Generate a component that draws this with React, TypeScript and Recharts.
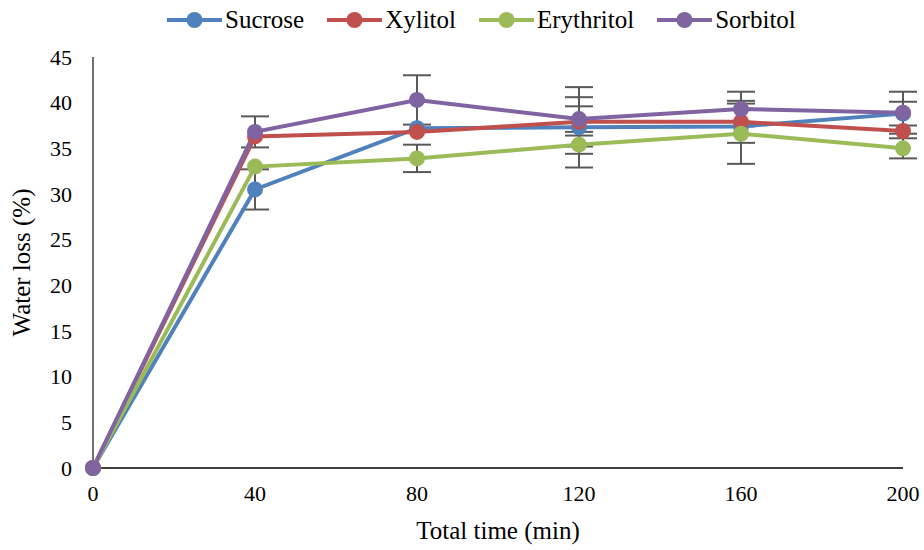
import { LineChart, Line, XAxis, YAxis, ErrorBar } from 'recharts'

const times = ['0', '40', '80', '120', '160', '200']

// null = error bar hidden under the marker in the source figure
const sucrose = [0, 30.5, 37.2, 37.3, 37.4, 38.8]
const sucroseErr = [null, 2.2, null, 4.4, null, 1.3]
const xylitol = [0, 36.3, 36.8, 37.9, 37.9, 36.9]
const xylitolErr = [null, null, null, 2.7, 2.3, null]
const erythritol = [0, 33.0, 33.9, 35.4, 36.6, 35.0]
const erythritolErr = [null, null, 1.5, 1.0, 3.3, 1.1]
const sorbitol = [0, 36.8, 40.3, 38.2, 39.3, 38.9]
const sorbitolErr = [null, 1.7, 2.7, 1.4, 1.9, 2.3]

const yTicks = [0, 5, 10, 15, 20, 25, 30, 35, 40, 45]

const SERIES = [
  { key: 'sucrose', name: 'Sucrose', color: '#4F81BD' },
  { key: 'xylitol', name: 'Xylitol', color: '#C0504D' },
  { key: 'erythritol', name: 'Erythritol', color: '#9BBB59' },
  { key: 'sorbitol', name: 'Sorbitol', color: '#8064A2' },
]

const FONT = 'Liberation Serif, Times New Roman, Tinos, DejaVu Serif, serif'

const data = times.map((t, i) => ({
  time: t,
  sucrose: sucrose[i],
  sucroseErr: sucroseErr[i],
  xylitol: xylitol[i],
  xylitolErr: xylitolErr[i],
  erythritol: erythritol[i],
  erythritolErr: erythritolErr[i],
  sorbitol: sorbitol[i],
  sorbitolErr: sorbitolErr[i],
}))

function TopLegend() {
  return (
    <div
      style={{
        position: 'absolute',
        top: 6,
        left: 167,
        display: 'flex',
        gap: 23,
        fontFamily: FONT,
        fontSize: 25,
        color: '#000',
      }}
    >
      {SERIES.map((s) => (
        <div key={s.key} style={{ display: 'flex', alignItems: 'center', gap: 3 }}>
          <svg width={55} height={20}>
            <line x1={0} y1={10} x2={55} y2={10} stroke={s.color} strokeWidth={4} />
            <circle cx={27.5} cy={10} r={8} fill={s.color} />
          </svg>
          <span>{s.name}</span>
        </div>
      ))}
    </div>
  )
}

export default function App() {
  return (
    <div style={{ position: 'absolute', left: 0, top: 0, width: 924, height: 550, background: '#fff', fontFamily: FONT }}>
      <LineChart
        width={924}
        height={550}
        data={data}
        margin={{ top: 57, right: 21, left: 33, bottom: 42 }}
        style={{ fontFamily: FONT }}
      >
        <XAxis
          dataKey="time"
          type="category"
          padding={{ left: 0, right: 0 }}
          tickLine={false}
          tickSize={0}
          tickMargin={17}
          height={40}
          axisLine={{ stroke: '#000', strokeWidth: 1.5 }}
          tick={{ fill: '#000', fontSize: 22, fontFamily: FONT }}
          label={{
            value: 'Total time (min)',
            position: 'insideBottom',
            offset: -31,
            fill: '#000',
            fontSize: 25,
            fontFamily: FONT,
          }}
        />
        <YAxis
          type="number"
          domain={[0, 45]}
          ticks={yTicks}
          interval={0}
          width={60}
          tickLine={false}
          tickSize={0}
          tickMargin={21}
          axisLine={{ stroke: '#404040', strokeWidth: 1.5 }}
          tick={{ fill: '#000', fontSize: 22, fontFamily: FONT }}
          label={{
            value: 'Water loss (%)',
            angle: -90,
            position: 'insideLeft',
            offset: -12,
            style: { textAnchor: 'middle' },
            fill: '#000',
            fontSize: 25,
            fontFamily: FONT,
          }}
        />
        {SERIES.map((s) => (
          <Line
            key={s.key}
            dataKey={s.key}
            name={s.name}
            stroke={s.color}
            strokeWidth={4}
            dot={false}
            activeDot={false}
            isAnimationActive={false}
          >
            <ErrorBar
              dataKey={`${s.key}Err`}
              direction="y"
              width={14}
              stroke="#595959"
              strokeWidth={2}
              zIndex={350}
            />
          </Line>
        ))}
        {SERIES.map((s) => (
          <Line
            key={`${s.key}-dots`}
            dataKey={s.key}
            stroke="none"
            legendType="none"
            zIndex={2000}
            dot={{ r: 8, fill: s.color, stroke: s.color, strokeWidth: 0 }}
            activeDot={false}
            isAnimationActive={false}
          />
        ))}
      </LineChart>
      <TopLegend />
    </div>
  )
}
